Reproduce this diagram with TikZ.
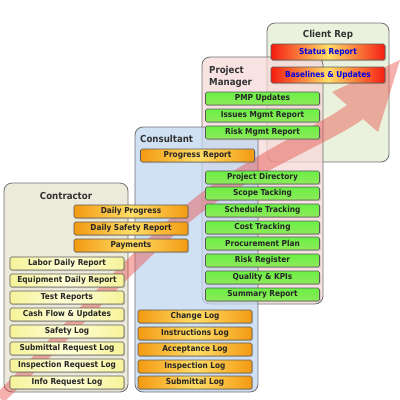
\documentclass[tikz,border=0pt]{standalone}
\usepackage{fontspec}
\newfontfamily\dejavu{DejaVu Sans Condensed}
\usetikzlibrary{shadows}
\definecolor{ctrfill}{HTML}{E6E3CF}
\definecolor{consfill}{HTML}{C2D7F0}
\definecolor{pmfill}{HTML}{F6D8D8}
\definecolor{clientfill}{HTML}{E3EED3}
\definecolor{rimgray}{HTML}{6E6E6E}
\definecolor{boxorange}{HTML}{F39A12}
\definecolor{boxgold}{HTML}{FFDD66}
\definecolor{boxyellow}{HTML}{F6F39A}
\definecolor{boxgreen}{HTML}{8EEA5C}
\definecolor{boxred}{HTML}{F41E12}
\definecolor{arrowred}{HTML}{E8504A}
\tikzset{
  panel/.style={draw=rimgray, line width=0.8pt, rounded corners=8pt, fill opacity=0.75},
  paneltitle/.style={font=\dejavu\bfseries\fontsize{9.6}{11.5}\selectfont, text=black!80, inner sep=0pt},
  rep/.style={draw=black!65, line width=0.6pt, rounded corners=1.5pt, minimum width=114pt, minimum height=13pt, inner sep=0pt,
    font=\dejavu\bfseries\fontsize{8.2}{9}\selectfont, text=black!85,
    drop shadow={shadow xshift=1.2pt, shadow yshift=-1.2pt, opacity=0.35}},
  orangerep/.style={rep, left color=boxorange, right color=boxorange, middle color=boxgold},
  yellowrep/.style={rep, left color=boxyellow, right color=boxyellow, middle color=yellow!15},
  greenrep/.style={rep, top color=green!25!boxgreen, bottom color=boxgreen},
  redrep/.style={rep, minimum height=16pt, left color=boxred, right color=boxred, middle color=boxgold, text=blue!90!black}
}
\begin{document}
\begin{tikzpicture}[x=1pt,y=-1pt]
    \useasboundingbox (0,0) rectangle (400,400);
    \draw[panel, fill=clientfill](267,23) rectangle (389,162);
    \draw[panel, fill=pmfill](202,57) rectangle (323,304);
    \draw[panel, fill=consfill](135,127) rectangle (258,392);
    \draw[panel, fill=ctrfill](4,183) rectangle (128,392);
    \fill[arrowred, opacity=0.45](-4,394) .. controls (70,320) and (140,240) .. (201,193) .. controls (260,150) and (320,125) .. (347,105) -- (332,92) -- (400,60) -- (378,132) -- (363,119) .. controls (335,140) and (270,165) .. (209,207) .. controls (150,250) and (80,330) .. (4,402) -- cycle;
    \node[paneltitle](ctrtitle) at (66,196){Contractor};
    \node[paneltitle, anchor=west](constitle) at (140,139){Consultant};
    \node[paneltitle, anchor=west, align=left](pmtitle) at (209,77){Project\\Manager};
    \node[paneltitle](clienttitle) at (328,35){Client Rep};
    \node[redrep](status) at (328,52){Status Report};
    \node[redrep](baselines) at (328,75){Baselines \& Updates};
    \node[greenrep](pmp) at (262.5,98.5){PMP Updates};
    \node[greenrep](issues) at (262.5,115.5){Issues Mgmt Report};
    \node[greenrep](riskmgmt) at (262.5,132.5){Risk Mgmt Report};
    \node[orangerep](progress) at (197.5,155.5){Progress Report};
    \node[greenrep](directory) at (262.5,177.5){Project Directory};
    \node[greenrep](scope) at (262.5,193.5){Scope Tacking};
    \node[greenrep](schedule) at (262.5,210.5){Schedule Tracking};
    \node[greenrep](cost) at (262.5,227.5){Cost Tracking};
    \node[greenrep](procure) at (262.5,243.5){Procurement Plan};
    \node[greenrep](riskreg) at (262.5,260.5){Risk Register};
    \node[greenrep](quality) at (262.5,277.5){Quality \& KPIs};
    \node[greenrep](summary) at (262.5,294.5){Summary Report};
    \node[orangerep](change) at (195,316.5){Change Log};
    \node[orangerep](instruct) at (195,333.5){Instructions Log};
    \node[orangerep](accept) at (195,349.5){Acceptance Log};
    \node[orangerep](inspect) at (195,366.5){Inspection Log};
    \node[orangerep](submittal) at (195,382.5){Submittal Log};
    \node[orangerep](dprogress) at (131,211.5){Daily Progress};
    \node[orangerep](dsafety) at (131,228.5){Daily Safety Report};
    \node[orangerep](payments) at (131,245.5){Payments};
    \node[yellowrep](labor) at (67,263.5){Labor Daily Report};
    \node[yellowrep](equip) at (67,280.5){Equipment Daily Report};
    \node[yellowrep](tests) at (67,297.5){Test Reports};
    \node[yellowrep](cashflow) at (67,314.5){Cash Flow \& Updates};
    \node[yellowrep](safelog) at (67,331.5){Safety Log};
    \node[yellowrep](subreq) at (67,348.5){Submittal Request Log};
    \node[yellowrep](inspreq) at (67,365.5){Inspection Request Log};
    \node[yellowrep](inforeq) at (67,382.5){Info Request Log};
\end{tikzpicture}
\end{document}
